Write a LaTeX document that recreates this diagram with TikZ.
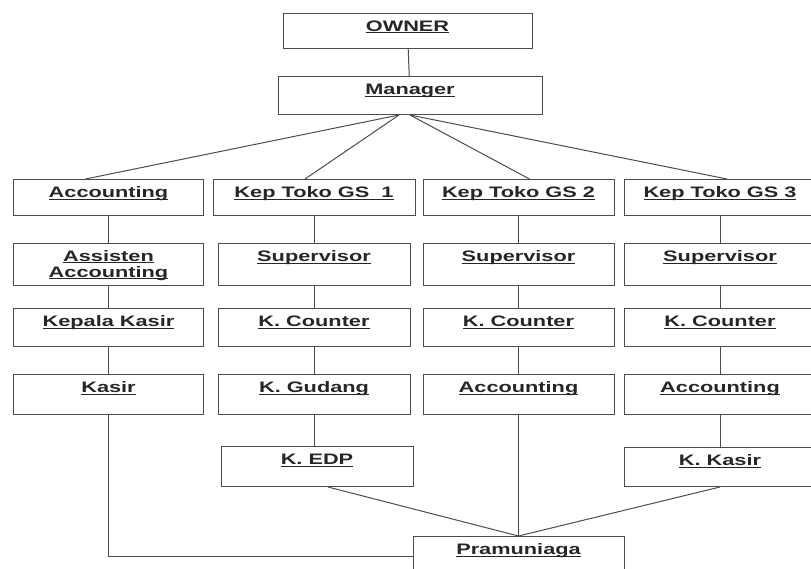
\documentclass[tikz,border=0pt]{standalone}
\usepackage{fontspec}
\setmainfont{Liberation Sans}[FakeStretch=1.43]
\usepackage{tikz}
\usetikzlibrary{positioning}

\newcommand{\ulbl}[1]{\underline{\smash{#1}}}

\begin{document}
\begin{tikzpicture}[x=1pt, y=-1pt,
    box/.style={draw=black!70, line width=1pt, inner sep=0pt, anchor=north, text=black!85, font=\fontsize{15.2}{16}\selectfont\bfseries},
    unit/.style={box, text height=18pt, text depth=#1},
    link/.style={draw=black!70, line width=1pt}
]
\useasboundingbox (0,0) rectangle (811,568);

% top
\node[unit=17.5, minimum width=249pt] (owner) at (407.5, 12.7) {\ulbl{OWNER}};
\node[unit=20, minimum width=264pt] (manager) at (410, 76) {\ulbl{Manager}};

% first row
\node[unit=18, minimum width=190pt] (acc) at (108.5, 179) {\ulbl{Accounting}};
\node[unit=18, minimum width=202pt] (gs1) at (314, 179) {\ulbl{Kep Toko GS\ \ 1}};
\node[unit=18, minimum width=191pt] (gs2) at (518.5, 179) {\ulbl{Kep Toko GS 2}};
\node[unit=18, minimum width=192pt] (gs3) at (720, 179) {\ulbl{Kep Toko GS 3}};

% second row
\node[box, align=center, minimum width=190pt, minimum height=42pt] (asacc) at (108.5, 243) {\rule{0pt}{11pt}\ulbl{Assisten}\\ \ulbl{Accounting}};
\node[unit=24, minimum width=192pt] (sup1) at (314, 243) {\ulbl{Supervisor}};
\node[unit=24, minimum width=191pt] (sup2) at (518.5, 243) {\ulbl{Supervisor}};
\node[unit=24, minimum width=192pt] (sup3) at (720, 243) {\ulbl{Supervisor}};

% third row
\node[unit=20, minimum width=190pt] (kkasir1) at (108.5, 308) {\ulbl{Kepala Kasir}};
\node[unit=20, minimum width=192pt] (cnt1) at (314, 308) {\ulbl{K. Counter}};
\node[unit=20, minimum width=191pt] (cnt2) at (518.5, 308) {\ulbl{K. Counter}};
\node[unit=20, minimum width=192pt] (cnt3) at (720, 308) {\ulbl{K. Counter}};

% fourth row
\node[unit=22, minimum width=190pt] (kasir) at (108.5, 374) {\ulbl{Kasir}};
\node[unit=22, minimum width=192pt] (gudang) at (314, 374) {\ulbl{K. Gudang}};
\node[unit=22, minimum width=191pt] (acc2) at (518.5, 374) {\ulbl{Accounting}};
\node[unit=22, minimum width=192pt] (acc3) at (720, 374) {\ulbl{Accounting}};

% bottom
\node[unit=22, minimum width=192pt] (edp) at (317, 446) {\ulbl{K. EDP}};
\node[unit=21, minimum width=192pt] (kkasir2) at (720, 447) {\ulbl{K. Kasir}};
\node[unit=21, minimum width=211pt] (pram) at (518.5, 536) {\ulbl{Pramuniaga}};

\draw[link] (owner) -- (manager);
\draw[link] ([xshift=-11pt]manager.south) -- ([xshift=-23pt]acc.north);
\draw[link] ([xshift=-11pt]manager.south) -- ([xshift=-9pt]gs1.north);
\draw[link] (manager.south) -- ([xshift=11pt]gs2.north);
\draw[link] (manager.south) -- ([xshift=7pt]gs3.north);

\draw[link] (acc) -- (asacc) -- (kkasir1) -- (kasir);
\draw[link] (gs1) -- (sup1) -- (cnt1) -- (gudang);
\draw[link] (gudang.south) -- (gudang.south |- edp.north);
\draw[link] (gs2) -- (sup2) -- (cnt2) -- (acc2);
\draw[link] (gs3) -- (sup3) -- (cnt3) -- (acc3) -- (kkasir2);

\draw[link] (kasir.south) |- (pram.west);
\draw[link] ([xshift=11pt]edp.south) -- (pram.north);
\draw[link] (acc2) -- (pram);
\draw[link] (kkasir2.south) -- (pram.north);
\end{tikzpicture}
\end{document}
